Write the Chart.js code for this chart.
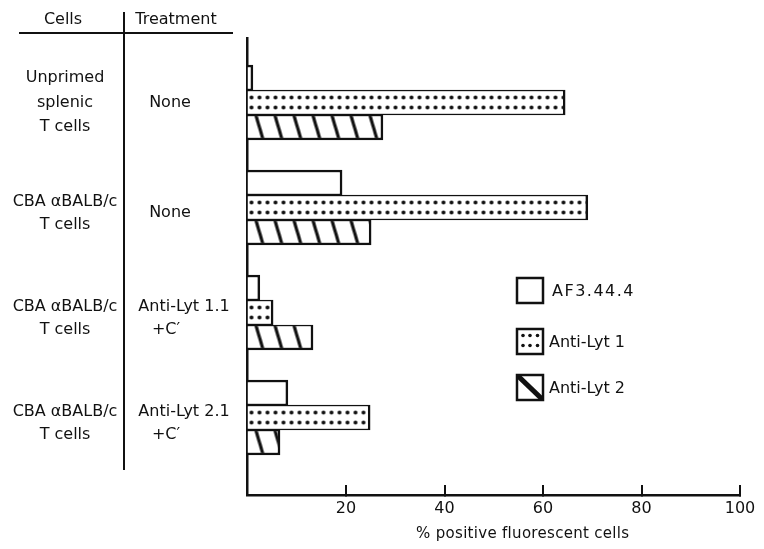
<!DOCTYPE html>
<html><head><meta charset="utf-8">
<script src="https://cdn.jsdelivr.net/npm/chart.js@4.4.1/dist/chart.umd.min.js"></script>
<style>html,body{margin:0;padding:0;background:#fff}canvas{display:block}</style>
</head><body>
<canvas id="c" width="764" height="549"></canvas>
<script>
// ---- data ----
const headers = ["Cells", "Treatment"];
const cellLabels = [["Unprimed", "splenic", "T cells"], ["CBA \u03b1BALB/c", "T cells"], ["CBA \u03b1BALB/c", "T cells"], ["CBA \u03b1BALB/c", "T cells"]];
const treatmentLabels = [["None"], ["None"], ["Anti-Lyt 1.1", "+C\u2032"], ["Anti-Lyt 2.1", "+C\u2032"]];
const seriesNames = ["AF3.44.4", "Anti-Lyt 1", "Anti-Lyt 2"];
const af3444 = [1.1, 19.2, 2.5, 8.2];
const antiLyt1 = [64.5, 69.1, 5.2, 24.9];
const antiLyt2 = [27.5, 25.1, 13.3, 6.6];
const xTicks = [20, 40, 60, 80, 100];
const xTitle = "% positive fluorescent cells";

// ---- styling ----
const FONT = "'DejaVu Sans', sans-serif";
const INK = "#111";
const BAR = 25;
Chart.defaults.font.family = FONT;
Chart.defaults.color = INK;

function tile(kind) {
  const c = document.createElement('canvas');
  const g = c.getContext('2d');
  if (kind === 'dots') {
    c.width = 8; c.height = BAR;
    g.fillStyle = '#fff'; g.fillRect(0, 0, 8, BAR);
    g.fillStyle = INK;
    [7.5, 17.5].forEach(y => { g.beginPath(); g.arc(4, y, 2.0, 0, Math.PI * 2); g.fill(); });
  } else {
    c.width = 19; c.height = BAR;
    g.fillStyle = '#fff'; g.fillRect(0, 0, 19, BAR);
    g.strokeStyle = INK; g.lineWidth = 3.2;
    [-19, 0, 19].forEach(o => { g.beginPath(); g.moveTo(8 + o, -1); g.lineTo(16 + o, BAR + 1); g.stroke(); });
  }
  return c;
}
const tiles = { dots: tile('dots'), hatch: tile('hatch') };

function patternFill(kind) {
  return (ctx) => {
    if (ctx.type !== 'data') return '#fff';
    const chart = ctx.chart;
    const y = chart.scales.y;
    if (!y || !chart.chartArea) return '#fff';
    const top = y.getPixelForValue(ctx.dataIndex) - 1.5 * BAR + ctx.datasetIndex * BAR;
    if (!isFinite(top)) return '#fff';
    const p = chart.ctx.createPattern(tiles[kind], 'repeat');
    p.setTransform(new DOMMatrix([1, 0, 0, 1, chart.chartArea.left, top]));
    return p;
  };
}

const toPoints = arr => arr.map((v, i) => ({ x: v, y: i }));

const tablePlugin = {
  id: 'table',
  afterDraw(chart) {
    const g = chart.ctx;
    const ys = chart.scales.y;
    const area = chart.chartArea;
    g.save();
    g.fillStyle = INK; g.strokeStyle = INK;
    g.textAlign = 'center'; g.textBaseline = 'middle';
    g.font = `16px ${FONT}`;
    // headers
    g.fillText(headers[0], 63, 20);
    g.fillText(headers[1], 176, 20);
    g.lineWidth = 2;
    g.beginPath(); g.moveTo(19, 33); g.lineTo(233, 33); g.stroke();
    g.beginPath(); g.moveTo(124, 12); g.lineTo(124, 470); g.stroke();
    // row labels
    cellLabels.forEach((lines, i) => {
      const c = ys.getPixelForValue(i);
      const offs = lines.length === 3 ? [-24.5, 0.5, 24.5] : [-6, 17];
      lines.forEach((t, k) => g.fillText(t, 65, c + offs[k]));
      const tl = treatmentLabels[i];
      if (tl.length === 1) g.fillText(tl[0], 170, c + (lines.length === 3 ? 0.5 : 5));
      else { g.fillText(tl[0], 184, c - 6); g.fillText(tl[1], 166, c + 17); }
    });
    // axis title
    g.font = `15px ${FONT}`;
    g.textBaseline = 'alphabetic';
    if ('letterSpacing' in g) g.letterSpacing = '0.3px';
    g.fillText(xTitle, (area.left + area.right) / 2 + 29, 538);
    // legend
    const lx = 517, lw = 26, lh = 25, tops = [278, 329, 375];
    g.lineWidth = 2.5;
    tops.forEach((t, k) => {
      g.fillStyle = '#fff'; g.fillRect(lx, t, lw, lh);
      g.fillStyle = INK;
      if (k === 1) {
        [523, 530, 537.5].forEach(x => [335.5, 345.5].forEach(y => { g.beginPath(); g.arc(x, y, 1.8, 0, Math.PI * 2); g.fill(); }));
      }
      if (k === 2) {
        g.save(); g.beginPath(); g.rect(lx, t, lw, lh); g.clip();
        g.lineWidth = 5; g.beginPath(); g.moveTo(lx, t); g.lineTo(lx + lw, t + lh); g.stroke();
        g.restore();
      }
      g.strokeRect(lx, t, lw, lh);
      g.font = `16px ${FONT}`;
      g.textAlign = 'left'; g.textBaseline = 'middle';
      if ('letterSpacing' in g) g.letterSpacing = k === 0 ? '1.5px' : '0px';
      g.fillText(seriesNames[k], k === 0 ? 552 : 549, t + lh / 2 + 1);
    });
    g.restore();
  }
};

const borders = [
  { top: 2.5, bottom: 1.5, right: 2.5, left: 0 },
  { top: 1.5, bottom: 1.5, right: 2.5, left: 0 },
  { top: 1.5, bottom: 2.5, right: 2.5, left: 0 }
];

new Chart(document.getElementById('c'), {
  type: 'bar',
  data: {
    datasets: [
      { label: seriesNames[0], data: toPoints(af3444), backgroundColor: '#fff', borderColor: INK, borderWidth: borders[0] },
      { label: seriesNames[1], data: toPoints(antiLyt1), backgroundColor: patternFill('dots'), borderColor: INK, borderWidth: borders[1] },
      { label: seriesNames[2], data: toPoints(antiLyt2), backgroundColor: patternFill('hatch'), borderColor: INK, borderWidth: borders[2] }
    ]
  },
  options: {
    responsive: false,
    animation: false,
    events: [],
    indexAxis: 'y',
    barThickness: BAR,
    borderSkipped: 'start',
    layout: { padding: { left: 247.5, right: 24, top: 38, bottom: 0 } },
    plugins: { legend: { display: false }, tooltip: { enabled: false } },
    scales: {
      x: {
        type: 'linear', position: 'bottom', min: 0, max: 100, offset: false,
        afterBuildTicks: s => { s.ticks = xTicks.map(v => ({ value: v })); },
        afterFit: s => { s.height = 54; s.paddingLeft = 0; s.paddingRight = 0; },
        ticks: { padding: 14, color: INK, font: { size: 16 }, maxRotation: 0, autoSkip: false },
        grid: { drawOnChartArea: false, drawTicks: true, tickLength: -10, color: INK, lineWidth: 2, offset: false },
        border: { color: INK, width: 2.5 }
      },
      y: {
        type: 'linear', position: 'left', reverse: true, min: -0.614, max: 3.738, offset: false,
        afterBuildTicks: s => { s.ticks = cellLabels.map((_, i) => ({ value: i })); },
        afterFit: s => { s.width = 0; s.paddingTop = 0; s.paddingBottom = 0; },
        ticks: { display: false },
        grid: { drawOnChartArea: false, drawTicks: false, offset: false },
        border: { color: INK, width: 2.5 }
      }
    }
  },
  plugins: [tablePlugin]
});
</script>
</body></html>
